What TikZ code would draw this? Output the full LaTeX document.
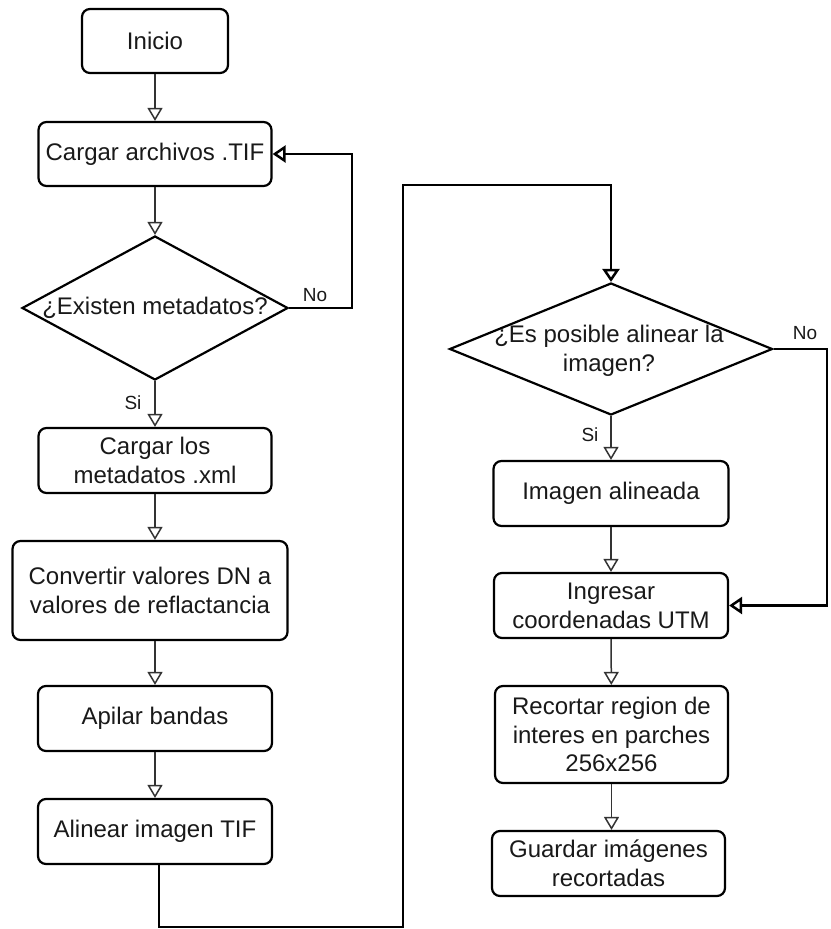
\documentclass[tikz,border=0pt]{standalone}
\usepackage{fontspec}
\setmainfont{Liberation Sans}
\usetikzlibrary{shapes.geometric,arrows.meta}
\begin{document}
\begin{tikzpicture}[x=1pt,y=-1pt,
  box/.style={draw=black, line width=2.2pt, rounded corners=8pt, fill=white, align=center,
    inner sep=0pt, font=\fontsize{24}{28.8}\selectfont, text=black!90},
  dia/.style={draw=black, line width=2.2pt, diamond, inner sep=0pt, fill=white},
  dtext/.style={align=center, font=\fontsize{24}{28.8}\selectfont, text=black!90},
  lab/.style={font=\fontsize{19}{22}\selectfont, text=black!90},
  arr/.style={line width=1.5pt, draw=black!80, -{Triangle[open, length=13pt, width=15pt]}},
  arrthick/.style={line width=2.5pt, draw=black, -{Triangle[open, length=13pt, width=17pt]}}
]
\useasboundingbox (0,0) rectangle (830,929);

% left column
\node[box, minimum width=146pt, minimum height=64pt] (inicio) at (155,41) {Inicio};
\node[box, minimum width=233pt, minimum height=64pt] (cargar) at (155,154) {Cargar archivos .TIF};
\node[dia, minimum width=266pt, minimum height=144pt] (d1) at (155,308) {};
\node[dtext] (d1t) at (155,308) {¿Existen metadatos?};
\node[box, minimum width=233pt, minimum height=65pt] (meta) at (155,460.5) {Cargar los\\metadatos .xml};
\node[box, minimum width=275pt, minimum height=99pt] (conv) at (150,590.5) {Convertir valores DN a\\valores de reflactancia};
\node[box, minimum width=234pt, minimum height=65pt] (apilar) at (155,718.5) {Apilar bandas};
\node[box, minimum width=234pt, minimum height=65pt] (alinear) at (155,831.5) {Alinear imagen TIF};

% right column
\node[dia, minimum width=323pt, minimum height=132pt] (d2) at (611,349) {};
\node[dtext] (d2t) at (609,351) {¿Es posible alinear la\\imagen?};
\node[box, minimum width=235pt, minimum height=65pt] (imagen) at (611,493.5) {Imagen alineada};
\node[box, minimum width=234pt, minimum height=65pt] (ingresar) at (611,605.5) {Ingresar\\coordenadas UTM};
\node[box, minimum width=233pt, minimum height=97pt] (recortar) at (611.5,734.5) {Recortar region de\\interes en parches\\256x256};
\node[box, minimum width=233pt, minimum height=65pt] (guardar) at (608.5,863.5) {Guardar imágenes\\recortadas};

% labels
\node[lab] (no1) at (315,295) {No};
\node[lab] (si1) at (133,403) {Si};
\node[lab] (no2) at (805,333) {No};
\node[lab] (si2) at (590,435) {Si};

% coordinates
\coordinate (c1) at (352,308);
\coordinate (b1) at (159,927);
\coordinate (b2) at (403,927);
\coordinate (b3) at (403,185);
\coordinate (b4) at (611,185);
\coordinate (r1) at (827,349);
\coordinate (r2) at (827,605.5);

% connectors
\draw[arr] (inicio) -- (cargar);
\draw[arr] (cargar) -- (d1);
\draw[arrthick] (d1.east) -- (c1) |- (cargar.east);
\draw[arr] (d1.south) -- (meta.north);
\draw[arr] (meta) -- (meta.south |- conv.north);
\draw[arr] (meta.south |- conv.south) -- (apilar.north);
\draw[arr] (apilar) -- (alinear);
\draw[arrthick] (alinear.south -| b1) -- (b1) -- (b2) -- (b3) -- (b4) -- (d2.north);
\draw[arr] (d2.south) -- (imagen.north);
\draw[arr] (imagen) -- (ingresar);
\draw[arr] (ingresar) -- (recortar);
\draw[arr] (recortar.south) -- (recortar.south |- guardar.north);
\draw[arrthick] (d2.east) -- (r1) -- (r2) -- (ingresar.east);
\end{tikzpicture}
\end{document}
